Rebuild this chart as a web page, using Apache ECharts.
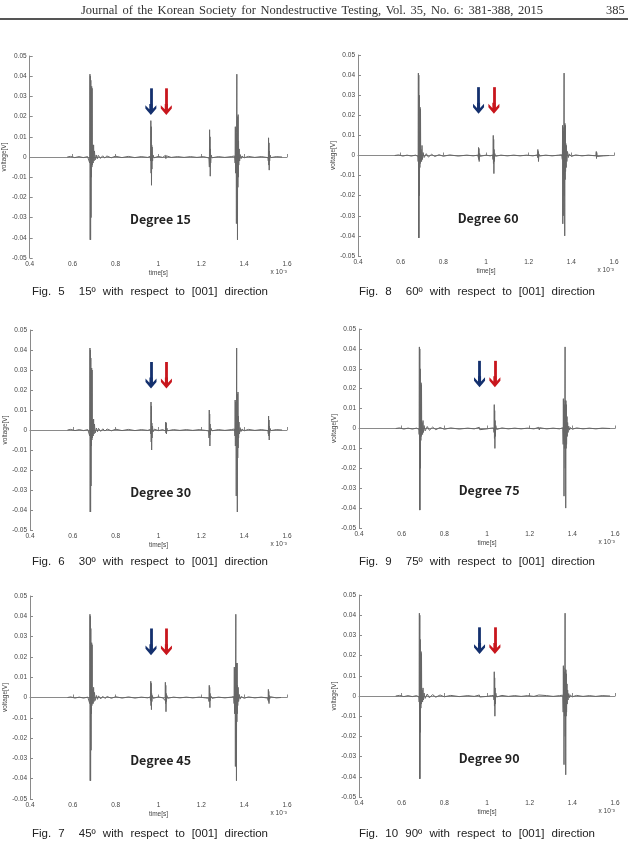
<!DOCTYPE html>
<html>
<head>
<meta charset="utf-8">
<script src="https://cdn.jsdelivr.net/npm/echarts@6/dist/echarts.min.js"></script>
<style>
html, body { margin: 0; padding: 0; background: #fff; }
#page { position: relative; width: 628px; height: 863px; overflow: hidden; }
#chart { position: absolute; left: 0; top: 0; width: 628px; height: 863px; }
.hdr { position: absolute; font-family: "Liberation Serif", serif; font-size: 12.5px; color: #333; }
.rule { position: absolute; left: 0; top: 18px; width: 628px; height: 2px; background: #555; }
.cap { position: absolute; width: 236px; font-family: "Liberation Sans", Arial, sans-serif; font-size: 11.5px; color: #222;
       text-align: justify; text-align-last: justify; line-height: 14px; }
.gap { display: inline-block; width: 7px; }
</style>
</head>
<body>
<div id="page">
  <div id="chart"></div>
  <div class="hdr" style="left:81px;top:3px;width:462px;text-align:justify;text-align-last:justify;">Journal of the Korean Society for Nondestructive Testing, Vol. 35, No. 6: 381-388, 2015</div>
  <div class="hdr" style="left:606px;top:3px;">385</div>
  <div class="rule"></div>
  <div class="cap" style="left:32px;top:284px;">Fig. 5<span class="gap"></span> 15º with respect to [001] direction</div>
  <div class="cap" style="left:359px;top:284px;">Fig. 8<span class="gap"></span> 60º with respect to [001] direction</div>
  <div class="cap" style="left:32px;top:554px;">Fig. 6<span class="gap"></span> 30º with respect to [001] direction</div>
  <div class="cap" style="left:359px;top:554px;">Fig. 9<span class="gap"></span> 75º with respect to [001] direction</div>
  <div class="cap" style="left:32px;top:826px;">Fig. 7<span class="gap"></span> 45º with respect to [001] direction</div>
  <div class="cap" style="left:359px;top:826px;">Fig. 10 90º with respect to [001] direction</div>
</div>
<script>
// axis ticks (time in x10^-3 s, voltage in V)
const timeTicks = [0.4, 0.6, 0.8, 1.0, 1.2, 1.4, 1.6];
const voltTicks = [-0.05, -0.04, -0.03, -0.02, -0.01, 0, 0.01, 0.02, 0.03, 0.04, 0.05];

// [time, voltage]
const deg15 = [
  [0.575,0],[0.59,0.0003],[0.61,-0.0003],[0.63,0.0002],[0.65,-0.0003],[0.67,0.0002],[0.679,-0.0005],
  [0.680,-0.003],[0.681,0.041],[0.682,-0.041],[0.683,0.040],[0.684,-0.041],[0.685,0.038],[0.686,-0.030],[0.687,0.020],
  [0.688,-0.010],[0.689,0.035],[0.690,-0.005],[0.691,0.034],[0.692,-0.004],[0.694,0.006],[0.696,-0.003],[0.698,0.006],
  [0.700,-0.002],[0.702,0.003],[0.705,-0.0015],[0.71,0.001],[0.715,-0.0009],[0.72,0.0008],[0.73,-0.0007],[0.74,0.0006],
  [0.75,-0.0005],[0.76,0.0005],[0.78,-0.0004],[0.80,0.0004],[0.83,-0.0003],[0.86,0.0003],[0.89,-0.0003],[0.92,0.0002],[0.95,-0.0002],
  [0.962,0.0003],[0.964,-0.002],[0.965,0.018],[0.966,-0.008],[0.967,0.015],[0.968,-0.014],[0.969,0.006],[0.970,-0.006],
  [0.971,0.005],[0.973,-0.002],[0.975,0.001],[0.98,-0.0004],[1.00,0.0003],[1.02,-0.0002],
  [1.033,0.0008],[1.035,-0.0008],[1.037,0.0006],[1.06,-0.0002],[1.09,0.0002],[1.12,-0.0002],[1.15,0.0002],[1.18,-0.0002],[1.21,0.0002],
  [1.236,-0.0005],[1.238,-0.005],[1.239,0.0135],[1.240,-0.004],[1.241,0.010],[1.242,-0.0095],[1.243,0.004],[1.244,-0.003],
  [1.246,0.001],[1.25,-0.0004],[1.28,0.0002],[1.31,-0.0002],[1.34,0.0002],
  [1.356,0.0005],[1.358,-0.003],[1.359,0.015],[1.360,-0.008],[1.361,0.014],[1.362,-0.006],[1.363,0.010],[1.364,-0.033],
  [1.365,0.012],[1.366,0.041],[1.367,-0.020],[1.368,0.018],[1.369,-0.041],[1.370,0.020],[1.371,-0.015],[1.372,0.021],
  [1.373,-0.010],[1.374,0.008],[1.375,-0.004],[1.377,0.004],[1.379,-0.002],[1.382,0.0012],[1.386,-0.0008],[1.39,0.0005],
  [1.40,-0.0004],[1.42,0.0003],[1.45,-0.0002],[1.48,0.0002],
  [1.511,-0.0003],[1.513,-0.002],[1.514,0.0095],[1.515,-0.004],[1.516,0.007],[1.517,-0.0065],[1.518,0.003],[1.519,-0.002],
  [1.521,0.001],[1.525,-0.0003],[1.55,0.0002],[1.577,0]
];

const deg30 = [
  [0.575,0],[0.59,0.0003],[0.61,-0.0003],[0.63,0.0002],[0.65,-0.0003],[0.67,0.0002],[0.678,-0.0005],
  [0.679,-0.003],[0.680,0.041],[0.681,-0.041],[0.682,0.040],[0.683,-0.041],[0.684,0.036],[0.685,-0.028],[0.686,0.018],
  [0.687,-0.008],[0.688,0.031],[0.689,-0.005],[0.690,0.030],[0.691,-0.004],[0.693,0.005],[0.695,-0.003],[0.697,0.0055],
  [0.699,-0.002],[0.701,0.003],[0.704,-0.0015],[0.71,0.001],[0.715,-0.0009],[0.72,0.0008],[0.73,-0.0007],[0.74,0.0006],
  [0.75,-0.0005],[0.76,0.0005],[0.78,-0.0004],[0.80,0.0004],[0.83,-0.0003],[0.86,0.0003],[0.89,-0.0003],[0.92,0.0002],[0.95,-0.0002],
  [0.962,0.0003],[0.964,-0.002],[0.965,0.014],[0.966,-0.006],[0.967,0.012],[0.968,-0.010],[0.969,0.0035],[0.970,-0.004],
  [0.972,0.002],[0.974,-0.001],[0.98,0.0004],[1.00,-0.0003],[1.02,0.0002],
  [1.032,-0.0005],[1.034,0.004],[1.035,-0.0015],[1.036,0.0035],[1.037,-0.002],[1.039,0.001],[1.042,-0.0004],
  [1.07,0.0002],[1.10,-0.0002],[1.13,0.0002],[1.16,-0.0002],[1.19,0.0002],[1.22,-0.0002],
  [1.234,-0.0005],[1.236,-0.004],[1.237,0.010],[1.238,-0.003],[1.239,0.008],[1.240,-0.008],[1.241,0.003],[1.242,-0.0025],
  [1.244,0.001],[1.25,-0.0004],[1.28,0.0002],[1.31,-0.0002],[1.34,0.0002],
  [1.355,0.0005],[1.357,-0.003],[1.358,0.015],[1.359,-0.008],[1.360,0.014],[1.361,-0.006],[1.362,0.010],[1.363,-0.033],
  [1.364,0.012],[1.365,0.041],[1.366,-0.020],[1.367,0.017],[1.368,-0.041],[1.369,0.018],[1.370,-0.014],[1.371,0.019],
  [1.372,-0.009],[1.373,0.007],[1.374,-0.004],[1.376,0.004],[1.378,-0.002],[1.381,0.0012],[1.385,-0.0008],[1.39,0.0005],
  [1.40,-0.0004],[1.42,0.0003],[1.45,-0.0002],[1.48,0.0002],
  [1.511,-0.0003],[1.513,-0.002],[1.514,0.007],[1.515,-0.003],[1.516,0.005],[1.517,-0.005],[1.518,0.002],[1.519,-0.0015],
  [1.521,0.0008],[1.525,-0.0003],[1.55,0.0002],[1.577,0]
];

const deg45 = [
  [0.575,0],[0.59,0.0003],[0.61,-0.0003],[0.63,0.0002],[0.65,-0.0003],[0.67,0.0002],[0.678,-0.0005],
  [0.679,-0.003],[0.680,0.041],[0.681,-0.041],[0.682,0.040],[0.683,-0.041],[0.684,0.034],[0.685,-0.026],[0.686,0.016],
  [0.687,-0.008],[0.688,0.027],[0.689,-0.004],[0.690,0.026],[0.691,-0.003],[0.693,0.004],[0.695,-0.003],[0.697,0.005],
  [0.699,-0.002],[0.701,0.0025],[0.704,-0.0015],[0.71,0.001],[0.715,-0.0009],[0.72,0.0008],[0.73,-0.0007],[0.74,0.0006],
  [0.75,-0.0005],[0.76,0.0005],[0.78,-0.0004],[0.80,0.0004],[0.83,-0.0003],[0.86,0.0003],[0.89,-0.0003],[0.92,0.0002],[0.95,-0.0002],
  [0.961,0.0003],[0.963,-0.0015],[0.964,0.008],[0.965,-0.004],[0.966,0.007],[0.967,-0.006],[0.968,0.002],[0.969,-0.002],
  [0.971,0.001],[0.975,-0.0004],[1.00,0.0003],[1.02,-0.0002],
  [1.029,0.0003],[1.031,-0.0015],[1.032,0.0075],[1.033,-0.003],[1.034,0.006],[1.035,-0.007],[1.036,0.002],[1.037,-0.002],
  [1.039,0.001],[1.043,-0.0004],[1.07,0.0002],[1.10,-0.0002],[1.13,0.0002],[1.16,-0.0002],[1.19,0.0002],[1.22,-0.0002],
  [1.234,-0.0004],[1.236,-0.002],[1.237,0.006],[1.238,-0.002],[1.239,0.005],[1.240,-0.005],[1.241,0.002],[1.242,-0.0015],
  [1.244,0.0008],[1.25,-0.0004],[1.28,0.0002],[1.31,-0.0002],[1.34,0.0002],
  [1.351,0.0005],[1.353,-0.003],[1.354,0.015],[1.355,-0.008],[1.356,0.014],[1.357,-0.006],[1.358,0.010],[1.359,-0.034],
  [1.360,0.012],[1.361,0.041],[1.362,-0.020],[1.363,0.016],[1.364,-0.041],[1.365,0.017],[1.366,-0.012],[1.367,0.017],
  [1.368,-0.008],[1.369,0.006],[1.370,-0.004],[1.372,0.005],[1.374,-0.002],[1.377,0.0015],[1.381,-0.0008],[1.386,0.0005],
  [1.40,-0.0004],[1.42,0.0003],[1.45,-0.0002],[1.48,0.0002],
  [1.510,-0.0003],[1.512,-0.0015],[1.513,0.004],[1.514,-0.002],[1.515,0.003],[1.516,-0.003],[1.517,0.001],[1.519,-0.0008],
  [1.522,0.0004],[1.55,-0.0002],[1.572,0]
];

const deg60 = [
  [0.572,0],[0.59,0.0003],[0.61,-0.0003],[0.63,0.0002],[0.65,-0.0003],[0.67,0.0002],[0.681,-0.0005],
  [0.682,-0.003],[0.683,0.041],[0.684,-0.041],[0.685,0.040],[0.686,-0.041],[0.687,0.030],[0.688,-0.020],[0.689,0.012],
  [0.690,-0.006],[0.691,0.024],[0.692,-0.004],[0.693,0.023],[0.694,-0.003],[0.696,0.003],[0.698,-0.003],[0.700,0.005],
  [0.702,-0.002],[0.705,0.0015],[0.71,-0.001],[0.72,0.0009],[0.73,-0.0008],[0.745,0.0006],[0.76,-0.0005],[0.78,0.0004],
  [0.80,-0.0004],[0.83,0.0003],[0.87,-0.0003],[0.91,0.0002],[0.94,-0.0002],
  [0.962,0.0002],[0.964,-0.001],[0.965,0.004],[0.966,-0.002],[0.967,0.0035],[0.968,-0.003],[0.970,0.001],[0.973,-0.0004],
  [1.00,0.0002],[1.02,-0.0002],
  [1.031,0.0003],[1.033,-0.002],[1.034,0.010],[1.035,-0.004],[1.036,0.008],[1.037,-0.009],[1.038,0.003],[1.039,-0.003],
  [1.041,0.001],[1.045,-0.0004],[1.07,0.0002],[1.10,-0.0002],[1.13,0.0002],[1.16,-0.0002],[1.19,0.0002],[1.22,-0.0002],
  [1.240,0.0003],[1.242,-0.001],[1.243,0.003],[1.244,-0.001],[1.245,0.002],[1.246,-0.003],[1.248,0.0008],[1.25,-0.0003],
  [1.28,0.0002],[1.31,-0.0002],[1.34,0.0002],
  [1.355,0.0004],[1.358,-0.002],[1.359,0.015],[1.360,-0.034],[1.361,0.014],[1.362,-0.030],[1.363,0.012],[1.364,-0.010],
  [1.365,0.010],[1.366,0.041],[1.367,-0.020],[1.368,0.015],[1.369,-0.040],[1.370,0.016],[1.371,-0.012],[1.372,0.015],
  [1.373,-0.008],[1.374,0.006],[1.376,-0.006],[1.377,0.005],[1.379,-0.003],[1.382,0.002],[1.386,-0.001],[1.39,0.0008],
  [1.40,-0.0005],[1.42,0.0003],[1.45,-0.0002],[1.48,0.0002],
  [1.515,-0.0002],[1.517,0.002],[1.518,-0.0015],[1.519,0.0015],[1.521,-0.0005],[1.53,0.0002],[1.55,-0.0002],[1.577,0]
];

const deg75 = [
  [0.572,0],[0.59,0.0003],[0.61,-0.0003],[0.63,0.0002],[0.65,-0.0003],[0.67,0.0002],[0.681,-0.0005],
  [0.682,-0.003],[0.683,0.041],[0.684,-0.041],[0.685,0.040],[0.686,-0.041],[0.687,0.030],[0.688,-0.020],[0.689,0.012],
  [0.690,-0.006],[0.691,0.023],[0.692,-0.004],[0.693,0.022],[0.694,-0.003],[0.696,0.003],[0.698,-0.003],[0.700,0.004],
  [0.702,-0.002],[0.705,0.0015],[0.71,-0.0012],[0.72,0.001],[0.73,-0.0009],[0.745,0.0007],[0.76,-0.0006],[0.78,0.0005],
  [0.80,-0.0004],[0.83,0.0003],[0.87,-0.0003],[0.91,0.0002],[0.94,-0.0002],
  [0.964,0.0006],[0.966,-0.0006],[0.968,0.0004],[1.00,-0.0002],[1.02,0.0002],
  [1.031,0.0003],[1.033,-0.002],[1.034,0.012],[1.035,-0.005],[1.036,0.009],[1.037,-0.010],[1.038,0.004],[1.039,-0.004],
  [1.041,0.0015],[1.045,-0.0005],[1.07,0.0003],[1.10,-0.0002],[1.13,0.0002],[1.16,-0.0002],[1.19,0.0002],[1.22,-0.0002],
  [1.243,0.0006],[1.245,-0.0007],[1.247,0.0004],[1.28,-0.0002],[1.31,0.0002],[1.34,-0.0002],
  [1.355,0.0004],[1.357,-0.008],[1.358,0.015],[1.359,-0.006],[1.360,0.014],[1.361,-0.034],[1.362,0.012],[1.363,-0.010],
  [1.365,0.010],[1.366,0.041],[1.367,-0.020],[1.368,0.014],[1.369,-0.040],[1.370,0.014],[1.371,-0.010],[1.372,0.012],
  [1.373,-0.008],[1.375,0.006],[1.376,-0.004],[1.378,0.003],[1.380,-0.002],[1.383,0.0012],[1.387,-0.0008],[1.39,0.0005],
  [1.40,-0.0004],[1.42,0.0003],[1.45,-0.0002],[1.48,0.0002],[1.51,-0.0002],[1.54,0.0002],[1.577,0]
];

const deg90 = [
  [0.572,0],[0.59,0.0003],[0.61,-0.0003],[0.63,0.0002],[0.65,-0.0003],[0.67,0.0002],[0.681,-0.0005],
  [0.682,-0.003],[0.683,0.041],[0.684,-0.041],[0.685,0.040],[0.686,-0.041],[0.687,0.028],[0.688,-0.018],[0.689,0.012],
  [0.690,-0.006],[0.691,0.022],[0.692,-0.004],[0.693,0.021],[0.694,-0.003],[0.696,0.003],[0.698,-0.003],[0.700,0.004],
  [0.702,-0.002],[0.705,0.0015],[0.71,-0.0012],[0.72,0.001],[0.73,-0.0009],[0.745,0.0007],[0.76,-0.0006],[0.78,0.0005],
  [0.80,-0.0004],[0.83,0.0003],[0.87,-0.0003],[0.91,0.0002],[0.94,-0.0002],
  [0.964,0.0005],[0.966,-0.0005],[0.968,0.0003],[1.00,-0.0002],[1.02,0.0002],
  [1.031,0.0003],[1.033,-0.002],[1.034,0.012],[1.035,-0.005],[1.036,0.009],[1.037,-0.010],[1.038,0.004],[1.039,-0.004],
  [1.041,0.0015],[1.045,-0.0005],[1.07,0.0003],[1.10,-0.0002],[1.13,0.0002],[1.16,-0.0002],[1.19,0.0002],[1.22,-0.0002],
  [1.243,0.0005],[1.245,0.001],[1.247,-0.0004],[1.28,0.0002],[1.31,-0.0002],[1.34,0.0002],
  [1.355,0.0004],[1.357,-0.008],[1.358,0.015],[1.359,-0.006],[1.360,0.014],[1.361,-0.034],[1.362,0.012],[1.363,-0.010],
  [1.365,0.010],[1.366,0.041],[1.367,-0.020],[1.368,0.013],[1.369,-0.039],[1.370,0.013],[1.371,-0.010],[1.372,0.011],
  [1.373,-0.008],[1.375,0.006],[1.376,-0.004],[1.378,0.003],[1.380,-0.002],[1.383,0.0012],[1.387,-0.0008],[1.39,0.0005],
  [1.40,-0.0004],[1.42,0.0003],[1.45,-0.0002],[1.48,0.0002],[1.51,-0.0002],[1.54,0.0002],[1.577,0]
];

const degreeNames = ['Degree 15', 'Degree 60', 'Degree 30', 'Degree 75', 'Degree 45', 'Degree 90'];
const waves = [deg15, deg60, deg30, deg75, deg45, deg90];

// arrow positions (time) and span (voltage)
const arrowTimes = [0.965, 1.037];
const arrowSpan = [0.034, 0.0235];
const labelPos = [1.01, -0.031];

// plot boxes in page pixels
const boxes = [
  { left: 29, top: 56, width: 258, height: 202 },
  { left: 358, top: 55, width: 256, height: 201 },
  { left: 30, top: 330, width: 257, height: 200 },
  { left: 359, top: 329, width: 256, height: 199 },
  { left: 30, top: 596, width: 257, height: 203 },
  { left: 359, top: 595, width: 256, height: 202 }
];

const chart = echarts.init(document.getElementById('chart'));

const axisGray = '#8a8a8a';
const tickFont = { fontSize: 6.5, color: '#444', fontFamily: 'Liberation Sans' };
const chevron = 'path://M5,0 L10,6 L10,9 L6.4,5.2 L6.4,10 L3.6,10 L3.6,5.2 L0,9 L0,6 Z';

const grids = [], xAxes = [], yAxes = [], series = [], graphics = [];

boxes.forEach((b, i) => {
  grids.push({ left: b.left, top: b.top, width: b.width, height: b.height, containLabel: false });
  xAxes.push({
    type: 'value', gridIndex: i,
    min: timeTicks[0], max: timeTicks[timeTicks.length - 1], interval: timeTicks[1] - timeTicks[0],
    name: 'time[s]', nameLocation: 'middle', nameGap: 12,
    nameTextStyle: { fontSize: 6.5, color: '#444', fontFamily: 'Liberation Sans' },
    axisLine: { lineStyle: { color: axisGray, width: 1 } },
    axisTick: { inside: true, length: 3, lineStyle: { color: axisGray } },
    axisLabel: Object.assign({ margin: 3, formatter: v => String(+v.toFixed(1)) }, tickFont),
    splitLine: { show: false }
  });
  yAxes.push({
    type: 'value', gridIndex: i,
    min: voltTicks[0], max: voltTicks[voltTicks.length - 1], interval: +(voltTicks[1] - voltTicks[0]).toFixed(2),
    name: 'voltage[V]', nameLocation: 'middle', nameGap: 17, nameRotate: 90,
    nameTextStyle: { fontSize: 6.5, color: '#444', fontFamily: 'Liberation Sans' },
    axisLine: { show: true, lineStyle: { color: axisGray, width: 1 } },
    axisTick: { show: true, inside: true, length: 3, lineStyle: { color: axisGray } },
    axisLabel: Object.assign({ margin: 3, formatter: v => String(+v.toFixed(2)) }, tickFont),
    splitLine: { show: false }
  });
  series.push({
    type: 'line', xAxisIndex: i, yAxisIndex: i,
    data: waves[i], showSymbol: false, symbol: 'none', silent: true,
    lineStyle: { color: '#666', width: 1 },
    markLine: {
      silent: true, animation: false,
      symbol: ['none', chevron], symbolSize: 11,
      label: { show: false },
      data: [
        [{ coord: [arrowTimes[0], arrowSpan[0]], lineStyle: { color: '#14306e', width: 2.8, type: 'solid' } },
         { coord: [arrowTimes[0], arrowSpan[1]] }],
        [{ coord: [arrowTimes[1], arrowSpan[0]], lineStyle: { color: '#c8161d', width: 2.8, type: 'solid' } },
         { coord: [arrowTimes[1], arrowSpan[1]] }]
      ]
    },
    markPoint: {
      silent: true, animation: false,
      symbol: 'circle', symbolSize: 0,
      data: [{ name: degreeNames[i], coord: labelPos }],
      label: {
        show: true, position: 'inside', formatter: '{b}',
        fontFamily: 'Noto Sans CJK KR', fontWeight: 'bold', fontSize: 12.5, color: '#222'
      }
    }
  });
  graphics.push({
    type: 'text', silent: true,
    x: b.left + b.width, y: b.top + b.height + 11,
    style: { text: 'x 10\u207B\u00B3', align: 'right', fontSize: 6.5, fill: '#444', fontFamily: 'Liberation Sans' }
  });
});

chart.setOption({
  animation: false,
  grid: grids,
  xAxis: xAxes,
  yAxis: yAxes,
  series: series,
  graphic: graphics
});
</script>
</body>
</html>
